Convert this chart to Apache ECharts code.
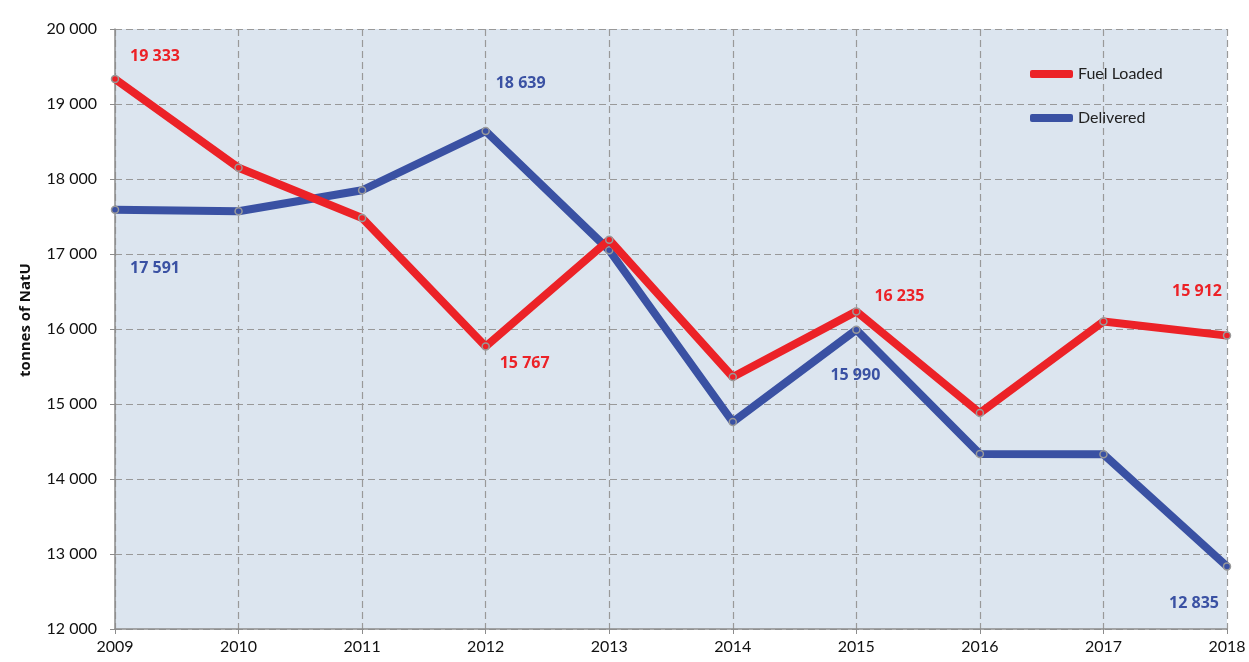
<!DOCTYPE html>
<html>
<head>
<meta charset="utf-8">
<script src="https://cdn.jsdelivr.net/npm/echarts@6/dist/echarts.min.js"></script>
<style>
  html, body { margin: 0; padding: 0; background: #fff; }
  #main { width: 1249px; height: 662px; }
</style>
</head>
<body>
<div id="main"></div>
<script>
const years = ['2009', '2010', '2011', '2012', '2013', '2014', '2015', '2016', '2017', '2018'];
const fuelLoaded = [19333, 18150, 17480, 15767, 17190, 15360, 16235, 14880, 16100, 15912];
const delivered = [17591, 17570, 17850, 18639, 17050, 14760, 15990, 14333, 14330, 12835];
// which points carry a value label (index -> label offset)
const fuelLabels = { 0: [40, -23], 3: [39, 17], 6: [43, -15], 9: [-30, -44] };
const deliveredLabels = { 0: [40, 59], 3: [35, -48], 6: [-1, 46], 9: [-33, 37] };

const red = '#ec2227';
const blue = '#3a51a3';

function fmt(v) {
    return String(v).replace(/\B(?=(\d{3})+(?!\d))/g, ' ');
}

function buildData(values, labels, color) {
    return values.map(function (v, i) {
        let item = { value: v };
        if (labels[i]) {
            item.label = {
                show: true,
                position: 'inside',
                offset: labels[i],
                color: color,
                fontWeight: 'bold',
                fontSize: 16,
                fontFamily: 'Open Sans',
                formatter: function (p) { return fmt(p.value); }
            };
        }
        return item;
    });
}

var myChart = echarts.init(document.getElementById('main'));

var option = {
    backgroundColor: '#fff',
    animation: false,
    textStyle: { fontFamily: 'Lato' },
    grid: {
        left: 115,
        right: 22,
        top: 29,
        bottom: 33,
        show: true,
        backgroundColor: '#dce5ef',
        borderWidth: 0
    },
    legend: {
        orient: 'vertical',
        left: 1025,
        top: 61,
        itemWidth: 43,
        itemHeight: 8,
        itemGap: 28,
        icon: 'roundRect',
        itemStyle: { borderWidth: 0 },
        textStyle: { fontSize: 16, color: '#222', fontFamily: 'Lato' },
        data: ['Fuel Loaded', 'Delivered']
    },
    xAxis: {
        type: 'category',
        data: years,
        boundaryGap: false,
        axisLine: { lineStyle: { color: '#8c8c8c', width: 1.5 } },
        axisTick: { show: true, length: 5, lineStyle: { color: '#8c8c8c' } },
        axisLabel: { color: '#111', fontSize: 16, margin: 10 },
        splitLine: { show: true, lineStyle: { color: '#999', type: [7, 4], width: 1.2 } }
    },
    yAxis: {
        type: 'value',
        min: 12000,
        max: 20000,
        interval: 1000,
        name: 'tonnes of NatU',
        nameLocation: 'middle',
        nameGap: 82,
        nameTextStyle: { fontSize: 15, fontWeight: 'bold', color: '#111', fontFamily: 'Open Sans', padding: [0, 0, 0, 18] },
        axisLine: { show: true, lineStyle: { color: '#8c8c8c', width: 1.5 } },
        axisTick: { show: true, length: 5, lineStyle: { color: '#8c8c8c' } },
        axisLabel: { color: '#111', fontSize: 16, margin: 18, formatter: fmt },
        splitLine: { show: true, lineStyle: { color: '#999', type: [7, 4], width: 1.2 } }
    },
    series: [
        {
            name: 'Fuel Loaded',
            type: 'line',
            data: buildData(fuelLoaded, fuelLabels, red),
            symbol: 'circle',
            symbolSize: 7,
            lineStyle: { color: red, width: 8 },
            itemStyle: { color: red, borderColor: '#999', borderWidth: 1.5 },
            z: 3
        },
        {
            name: 'Delivered',
            type: 'line',
            data: buildData(delivered, deliveredLabels, blue),
            symbol: 'circle',
            symbolSize: 7,
            lineStyle: { color: blue, width: 8 },
            itemStyle: { color: blue, borderColor: '#999', borderWidth: 1.5 },
            z: 2
        }
    ]
};

myChart.setOption(option);
</script>
</body>
</html>
